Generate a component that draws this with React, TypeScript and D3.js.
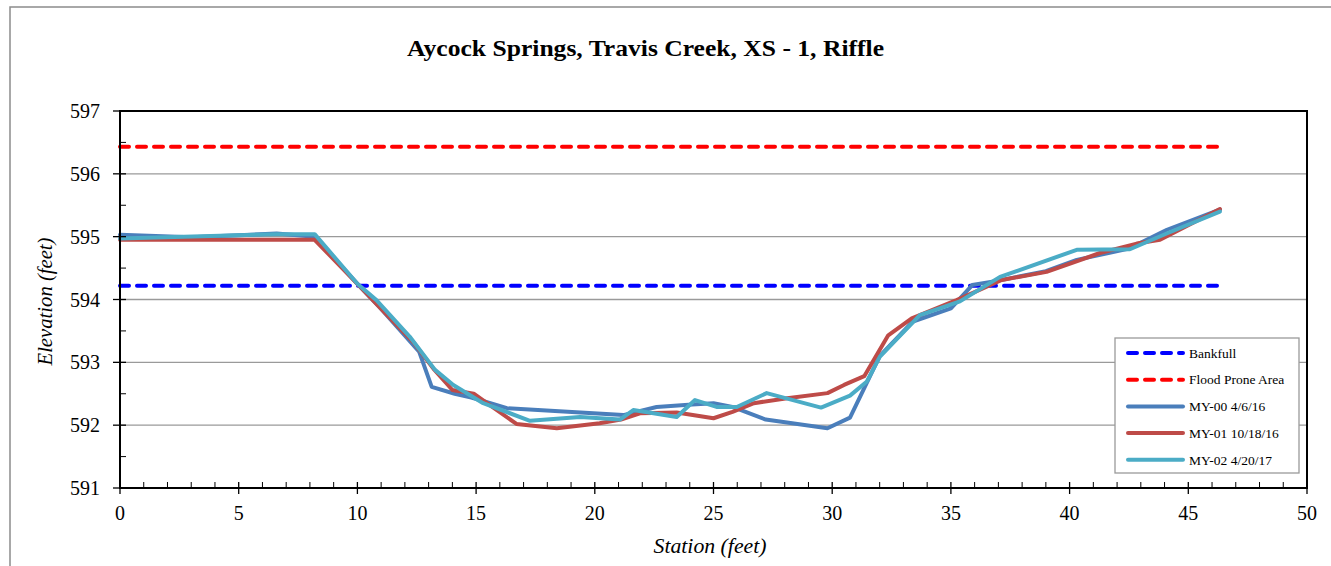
import React from "react";
import * as d3 from "d3";

const title = "Aycock Springs, Travis Creek, XS - 1, Riffle";
const xTicks = [0, 5, 10, 15, 20, 25, 30, 35, 40, 45, 50];
const yTicks = [591, 592, 593, 594, 595, 596, 597];

const bankfullElev = 594.22;
const floodProneElev = 596.43;
const refStations = [0, 46.33];

const st00 = [0, 3, 6.6, 8.2, 10.0, 11.0, 12.6, 13.13, 14.1, 14.8, 16.3, 19.4, 21.2, 22.6, 24.1, 25.0, 25.8, 27.2, 29.8, 30.75, 32.0, 33.4, 35.0, 35.9, 37.0, 39.0, 40.3, 42.5, 44.1, 46.33];
const el00 = [595.03, 594.99, 595.05, 595.0, 594.25, 593.85, 593.17, 592.61, 592.5, 592.44, 592.27, 592.2, 592.16, 592.29, 592.33, 592.35, 592.29, 592.09, 591.95, 592.12, 593.1, 593.65, 593.86, 594.23, 594.3, 594.45, 594.63, 594.81, 595.11, 595.43];

const st01 = [0, 3, 6.7, 8.2, 10.0, 11.0, 12.4, 13.2, 14.0, 14.9, 16.7, 18.4, 20.2, 21.1, 21.9, 23.45, 25.0, 25.8, 26.7, 28.1, 29.8, 30.5, 31.35, 32.36, 33.35, 35.24, 37.14, 39.03, 41.28, 42.83, 43.81, 46.33];
const el01 = [594.95, 594.95, 594.95, 594.95, 594.25, 593.85, 593.3, 592.9, 592.56, 592.5, 592.02, 591.95, 592.03, 592.09, 592.19, 592.2, 592.11, 592.21, 592.35, 592.43, 592.51, 592.64, 592.78, 593.43, 593.7, 593.99, 594.31, 594.44, 594.74, 594.89, 594.95, 595.44];

const st02 = [0, 6.6, 8.2, 10.0, 10.8, 12.2, 13.27, 14.04, 15.3, 17.27, 19.38, 21.06, 21.62, 23.45, 24.22, 25.13, 25.98, 27.24, 29.53, 30.75, 31.45, 32.01, 33.69, 35.38, 37.07, 40.3, 42.54, 44.09, 46.33];
const el02 = [594.97, 595.04, 595.04, 594.25, 593.99, 593.41, 592.88, 592.64, 592.35, 592.07, 592.13, 592.09, 592.24, 592.13, 592.4, 592.29, 592.29, 592.51, 592.28, 592.47, 592.69, 593.09, 593.75, 593.97, 594.36, 594.79, 594.8, 595.05, 595.4];

const seriesNames = ["Bankfull", "Flood Prone Area", "MY-00 4/6/16", "MY-01 10/18/16", "MY-02 4/20/17"];
const seriesColors = ["#0000FF", "#FF0000", "#4A7EBB", "#BE4B48", "#4BACC6"];

export default function App() {
  const W = 1331, H = 566;
  const L = 120, R = 1307, T = 111, B = 488;
  const x = d3.scaleLinear().domain([0, 50]).range([L, R]);
  const y = d3.scaleLinear().domain([591, 597]).range([B, T]);
  const line = d3.line<[number, number]>().x(d => x(d[0])).y(d => y(d[1]));
  const zip = (a: number[], b: number[]) => a.map((v, i) => [v, b[i]] as [number, number]);

  const profiles = [zip(st00, el00), zip(st01, el01), zip(st02, el02)];
  const refLines = [bankfullElev, floodProneElev];

  const xMinor = d3.range(0, 51, 1);
  const yMinor = d3.range(591, 597.01, 0.5);
  const serif = "'Liberation Serif', 'Times New Roman', serif";

  const legX = 1115, legY = 338, legW = 184, legH = 135;
  const legRow = (i: number) => 353 + i * 26.7;

  return (
    <svg width={W} height={H} style={{ position: "absolute", left: 0, top: 0 }} fontFamily={serif}>
      <rect x={0} y={0} width={W} height={H} fill="#fff" />
      <rect x={10} y={7} width={1400} height={700} fill="none" stroke="#8c8c8c" strokeWidth={1.5} />
      <text x={645.5} y={56} textAnchor="middle" fontSize={23} fontWeight="bold" fill="#000"
        textLength={477} lengthAdjust="spacingAndGlyphs">{title}</text>

      {yTicks.slice(1, -1).map(t => (
        <line key={t} x1={L} x2={R} y1={y(t)} y2={y(t)} stroke="#9a9a9a" strokeWidth={1.3} />
      ))}

      {refLines.map((v, i) => (
        <path key={i} d={line(refStations.map(s => [s, v] as [number, number])) || ""} fill="none"
          stroke={seriesColors[i]} strokeWidth={4} strokeDasharray="9 8" strokeLinecap="round" />
      ))}
      {profiles.map((p, i) => (
        <path key={i} d={line(p) || ""} fill="none" stroke={seriesColors[i + 2]} strokeWidth={4}
          strokeLinejoin="round" strokeLinecap="round" />
      ))}

      <rect x={L} y={T} width={R - L} height={B - T} fill="none" stroke="#000" strokeWidth={2} />
      {xMinor.map(t => (
        t % 5 === 0
          ? <line key={t} x1={x(t)} x2={x(t)} y1={B - 6} y2={B + 6} stroke="#000" strokeWidth={1.3} />
          : <line key={t} x1={x(t)} x2={x(t)} y1={B - 6} y2={B} stroke="#000" strokeWidth={1} />
      ))}
      {yMinor.map(t => (
        Number.isInteger(t)
          ? <line key={t} x1={L - 7} x2={L + 6} y1={y(t)} y2={y(t)} stroke="#000" strokeWidth={1.3} />
          : <line key={t} x1={L} x2={L + 6} y1={y(t)} y2={y(t)} stroke="#000" strokeWidth={1} />
      ))}
      {xTicks.map(t => (
        <text key={t} x={x(t)} y={520} textAnchor="middle" fontSize={20} fill="#000">{t}</text>
      ))}
      {yTicks.map(t => (
        <text key={t} x={100} y={y(t)} dy="0.35em" textAnchor="end" fontSize={20} fill="#000">{t}</text>
      ))}
      <text x={710} y={553} textAnchor="middle" fontSize={21} fontStyle="italic" fill="#000"
        textLength={113} lengthAdjust="spacingAndGlyphs">Station (feet)</text>
      <text transform={`translate(52,${(T + B) / 2 + 2}) rotate(-90)`} textAnchor="middle" fontSize={21}
        fontStyle="italic" fill="#000" textLength={128} lengthAdjust="spacingAndGlyphs">Elevation (feet)</text>

      <rect x={legX} y={legY} width={legW} height={legH} fill="#fff" stroke="#9a9a9a" strokeWidth={1.3} />
      {seriesNames.map((n, i) => (
        <g key={n}>
          <line x1={1128} x2={1183} y1={legRow(i)} y2={legRow(i)} stroke={seriesColors[i]} strokeWidth={4}
            strokeLinecap="round" strokeDasharray={i < 2 ? "9 8" : undefined} />
          <text x={1189} y={legRow(i)} dy="0.35em" fontSize={13.5} fill="#000">{n}</text>
        </g>
      ))}
    </svg>
  );
}
